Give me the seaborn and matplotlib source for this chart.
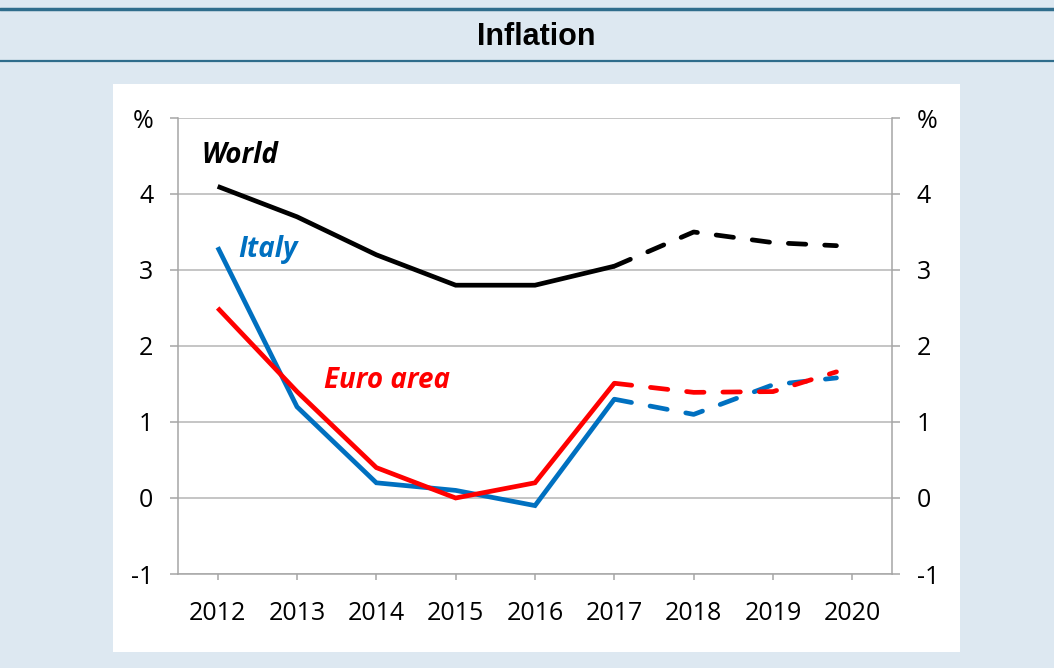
import matplotlib
matplotlib.use("Agg")
import matplotlib.pyplot as plt
import seaborn as sns
import pandas as pd
from matplotlib.patches import Rectangle
from matplotlib.lines import Line2D

# ---- data ----
years = [2012, 2013, 2014, 2015, 2016, 2017, 2018, 2019, 2019.8]
world = [4.1, 3.7, 3.2, 2.8, 2.8, 3.05, 3.5, 3.36, 3.32]
italy = [3.3, 1.2, 0.2, 0.1, -0.1, 1.3, 1.1, 1.49, 1.58]
euro_area = [2.5, 1.4, 0.4, 0.0, 0.2, 1.51, 1.39, 1.4, 1.66]
last_actual = 2017
x_tick_labels = ["2012", "2013", "2014", "2015", "2016", "2017", "2018", "2019", "2020"]
x_ticks = [2012, 2013, 2014, 2015, 2016, 2017, 2018, 2019, 2020]
y_ticks = [-1, 0, 1, 2, 3, 4, 5]
y_tick_labels = ["-1", "0", "1", "2", "3", "4", "%"]
series_names = ["Italy", "Euro area", "World"]
series_colors = {"Italy": "#0070c0", "Euro area": "#ff0000", "World": "#000000"}
title = "Inflation"

sns.set_theme(style="white")
plt.rcParams["font.family"] = ["Open Sans", "DejaVu Sans"]

BG = "#dde8f1"
fig = plt.figure(figsize=(10.54, 6.68), dpi=100, facecolor=BG)

# header band lines and white panel
fig.add_artist(Line2D([0, 1], [1 - 8.5 / 668] * 2, color="#2f6d8c", lw=2.5, transform=fig.transFigure))
fig.add_artist(Line2D([0, 1], [1 - 61 / 668] * 2, color="#2f6d8c", lw=1.6, transform=fig.transFigure))
fig.add_artist(Rectangle((113 / 1054, 1 - 652 / 668), (960 - 113) / 1054, (652 - 84) / 668,
                         facecolor="white", edgecolor="none", transform=fig.transFigure, zorder=0))
fig.text(536 / 1054, 1 - 37 / 668, title, ha="center", va="center", fontsize=22,
         fontweight="bold", family=["Liberation Sans", "DejaVu Sans"], color="black")

ax = fig.add_axes([178 / 1054, 1 - 574 / 668, (892 - 178) / 1054, (574 - 118) / 668])
ax.set_facecolor("none")

df = pd.DataFrame({"year": years, "World": world, "Italy": italy, "Euro area": euro_area})
for name in series_names:
    act = df[df["year"] <= last_actual]
    fc = df[df["year"] >= last_actual]
    sns.lineplot(x=act["year"], y=act[name], ax=ax, color=series_colors[name], lw=3.4,
                 solid_capstyle="butt", solid_joinstyle="miter", zorder=3)
    sns.lineplot(x=fc["year"], y=fc[name], ax=ax, color=series_colors[name], lw=3.4, zorder=3)
    ln = ax.lines[-1]
    ln.set_dashes((3.7, 4.0))
    ln.set_dash_capstyle("round")

ax.set_xlim(2011.5, 2020.5)
ax.set_ylim(-1, 5)
ax.set_xticks(x_ticks)
ax.set_xticklabels(x_tick_labels)
ax.set_yticks(y_ticks)
ax.set_yticklabels(y_tick_labels)
ax.set_xlabel("")
ax.set_ylabel("")
ax.grid(axis="y", color="#b5b5b5", lw=1.1)
ax.set_axisbelow(True)
ax.spines["top"].set_visible(False)
for s in ["left", "right", "bottom"]:
    ax.spines[s].set_color("#a6a6a6")
    ax.spines[s].set_linewidth(1.1)
ax.tick_params(axis="y", left=True, right=True, labelleft=True, labelright=True,
               length=5.8, width=1.1, color="#a6a6a6", labelsize=18, pad=12, direction="out")
ax.tick_params(axis="x", bottom=True, length=4.3, width=1.1, color="#a6a6a6",
               labelsize=18, pad=15, direction="out")
for lab in ax.get_yticklabels() + ax.get_xticklabels():
    lab.set_color("black")

ax.text(2012.28, 4.51, "World", color="black", fontsize=20, fontweight="bold", style="italic",
        ha="center", va="center")
ax.text(2012.63, 3.27, "Italy", color="#0070c0", fontsize=20, fontweight="bold", style="italic",
        ha="center", va="center")
ax.text(2014.13, 1.55, "Euro area", color="#ff0000", fontsize=20, fontweight="bold", style="italic",
        ha="center", va="center")

fig.savefig("out.png", dpi=100, facecolor=BG)
